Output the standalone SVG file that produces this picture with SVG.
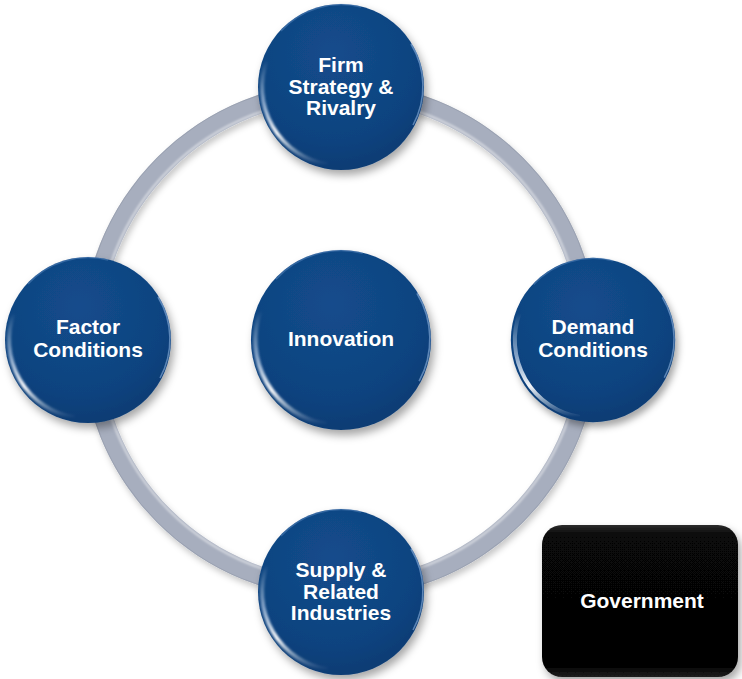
<svg xmlns="http://www.w3.org/2000/svg" width="742" height="679" viewBox="0 0 742 679">
  <style>
    .lbl { font-family: "Liberation Sans", Arial, sans-serif; font-weight: bold; font-size: 21px; fill: #ffffff; text-anchor: middle; }
  </style>
  <defs>
    <radialGradient id="ballFill" cx="0.45" cy="0.3" r="0.75">
      <stop offset="0" stop-color="#134c8c"/>
      <stop offset="0.7" stop-color="#0f437f"/>
      <stop offset="1" stop-color="#0b3a70"/>
    </radialGradient>
    <linearGradient id="glint" x1="0" y1="1" x2="0" y2="0" gradientUnits="objectBoundingBox">
      <stop offset="0" stop-color="#ffffff" stop-opacity="0"/>
      <stop offset="0.3" stop-color="#ffffff" stop-opacity="0.95"/>
      <stop offset="0.6" stop-color="#cfe0f5" stop-opacity="0.6"/>
      <stop offset="1" stop-color="#ffffff" stop-opacity="0"/>
    </linearGradient>
    <linearGradient id="boxFill" x1="0" y1="0" x2="0" y2="1">
      <stop offset="0" stop-color="#2e2e2e"/>
      <stop offset="0.06" stop-color="#070707"/>
      <stop offset="0.94" stop-color="#050505"/>
      <stop offset="1" stop-color="#1e1e1e"/>
    </linearGradient>
    <filter id="shadow" x="-20%" y="-20%" width="150%" height="150%">
      <feDropShadow dx="3" dy="5" stdDeviation="4" flood-color="#000000" flood-opacity="0.35"/>
    </filter>
    <filter id="ringShadow" x="-10%" y="-10%" width="120%" height="120%">
      <feDropShadow dx="2" dy="4" stdDeviation="3" flood-color="#000000" flood-opacity="0.22"/>
    </filter>
    <filter id="soft" x="-20%" y="-20%" width="140%" height="140%">
      <feGaussianBlur stdDeviation="0.8"/>
    </filter>
    <g id="ball">
      <circle r="83" fill="url(#ballFill)" filter="url(#shadow)"/>
      <path d="M -13.5 77.8 A 79 79 0 0 1 -74.2 -27" fill="none" stroke="url(#glint)" stroke-width="4" filter="url(#soft)"/>
      <path d="M 70 -43 A 81 81 0 0 1 72 38" fill="none" stroke="#9cc0ea" stroke-opacity="0.55" stroke-width="1.5"/>
      <path d="M -60 -56 A 82 82 0 0 1 20 -80" fill="none" stroke="#7aa3d6" stroke-opacity="0.35" stroke-width="1.5"/>
    </g>
  </defs>

  <g id="connectors">
    <circle cx="340" cy="340" r="249" fill="none" stroke="#a7aebe" stroke-width="19" filter="url(#ringShadow)"/>
    <circle cx="340" cy="340" r="241.5" fill="none" stroke="#ffffff" stroke-opacity="0.55" stroke-width="2" filter="url(#soft)"/>
    <circle cx="340" cy="340" r="258" fill="none" stroke="#8c93a3" stroke-opacity="0.5" stroke-width="1"/>
  </g>

  <g id="node-firm">
    <use href="#ball" transform="translate(341,87)"/>
    <text class="lbl" x="341" y="72">Firm</text>
    <text class="lbl" x="341" y="93.5">Strategy &amp;</text>
    <text class="lbl" x="341" y="115">Rivalry</text>
  </g>

  <g id="node-factor">
    <use href="#ball" transform="translate(88,340)"/>
    <text class="lbl" x="88" y="334">Factor</text>
    <text class="lbl" x="88" y="357">Conditions</text>
  </g>

  <g id="node-innovation">
    <use href="#ball" transform="translate(341,340) scale(1.085)"/>
    <text class="lbl" x="341" y="346">Innovation</text>
  </g>

  <g id="node-demand">
    <use href="#ball" transform="translate(593,340) scale(0.99)"/>
    <text class="lbl" x="593" y="334">Demand</text>
    <text class="lbl" x="593" y="357">Conditions</text>
  </g>

  <g id="node-supply">
    <use href="#ball" transform="translate(341,592)"/>
    <text class="lbl" x="341" y="577">Supply &amp;</text>
    <text class="lbl" x="341" y="599">Related</text>
    <text class="lbl" x="341" y="620">Industries</text>
  </g>

  <g id="node-government">
    <rect x="542" y="525" width="196" height="152" rx="20" ry="20" fill="url(#boxFill)" filter="url(#shadow)"/>
    <text class="lbl" x="642" y="608">Government</text>
  </g>
</svg>
